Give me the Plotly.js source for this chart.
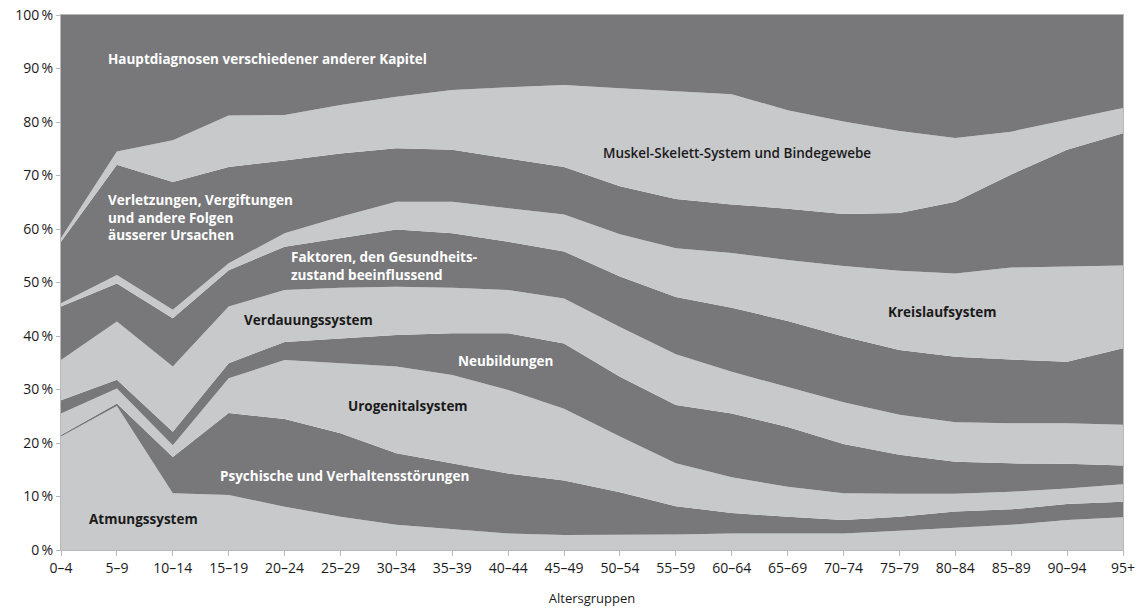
<!DOCTYPE html>
<html>
<head>
<meta charset="utf-8">
<script src="https://cdn.plot.ly/plotly-3.0.1.min.js"></script>
<style>html,body{margin:0;padding:0;background:#fff;}#chart{width:1140px;height:610px;}</style>
</head>
<body>
<div id="chart"></div>
<script>
const ageGroups = ["0–4","5–9","10–14","15–19","20–24","25–29","30–34","35–39","40–44","45–49","50–54","55–59","60–64","65–69","70–74","75–79","80–84","85–89","90–94","95+"];

const atmung     = [21.2,26.9,10.6,10.3, 8.1, 6.2, 4.7, 3.9, 3.1, 2.8, 2.8, 2.9, 3.1, 3.1, 3.1, 3.6, 4.1, 4.7, 5.6, 6.1];
const psychische = [ 0.3, 0.5, 6.8,15.3,16.4,15.6,13.4,12.3,11.2,10.2, 8.0, 5.3, 3.8, 3.1, 2.5, 2.6, 3.1, 2.9, 3.0, 2.9];
const urogenital = [ 4.0, 2.8, 2.2, 6.5,11.0,13.1,16.2,16.5,15.6,13.4,10.4, 8.0, 6.7, 5.6, 5.0, 4.3, 3.3, 3.3, 2.9, 3.3];
const neubildung = [ 2.5, 1.6, 2.5, 2.8, 3.4, 4.7, 5.9, 7.8,10.6,12.2,11.2,10.9,11.9,11.2, 9.2, 7.3, 6.0, 5.3, 4.6, 3.5];
const verdauung  = [ 7.5,10.9,12.2,10.6, 9.7, 9.4, 9.0, 8.5, 8.1, 8.4, 9.3, 9.5, 7.8, 7.5, 7.8, 7.5, 7.4, 7.5, 7.6, 7.6];
const faktoren   = [10.0, 7.1, 9.0, 6.8, 8.1, 9.3,10.7,10.2, 9.0, 8.8, 9.4,10.7,12.0,12.3,12.3,12.1,12.2,11.9,11.5,14.3];
const kreislauf  = [ 0.6, 1.6, 1.6, 1.3, 2.5, 4.0, 5.2, 5.9, 6.3, 6.9, 7.9, 9.1,10.2,11.4,13.2,14.8,15.6,17.2,17.8,15.5];
const verletzung = [11.5,20.6,23.9,18.0,13.6,11.8,10.0, 9.7, 9.3, 8.9, 9.0, 9.2, 9.1, 9.6, 9.7,10.8,13.4,17.4,21.8,24.7];
const muskel     = [ 0.7, 2.5, 7.8, 9.6, 8.5, 9.1, 9.6,11.2,13.3,15.3,18.3,20.1,20.6,18.4,17.3,15.3,11.9, 8.0, 5.6, 4.7];
const andere     = [41.7,25.5,23.4,18.8,18.7,16.8,15.3,14.0,13.5,13.1,13.7,14.3,14.8,17.8,19.9,21.7,23.0,21.8,19.6,17.4];

const seriesNames = ["Atmungssystem","Psychische und Verhaltensstörungen","Urogenitalsystem","Neubildungen","Verdauungssystem","Faktoren, den Gesundheitszustand beeinflussend","Kreislaufsystem","Verletzungen, Vergiftungen und andere Folgen äusserer Ursachen","Muskel-Skelett-System und Bindegewebe","Hauptdiagnosen verschiedener anderer Kapitel"];
const seriesValues = [atmung,psychische,urogenital,neubildung,verdauung,faktoren,kreislauf,verletzung,muskel,andere];

const yTickVals = [0,10,20,30,40,50,60,70,80,90,100];
const yTickText = ["0\u2009%","10\u2009%","20\u2009%","30\u2009%","40\u2009%","50\u2009%","60\u2009%","70\u2009%","80\u2009%","90\u2009%","100\u2009%"];

const LIGHT = "#c8c9cb", DARK = "#78787b";

const traces = seriesValues.map((v, i) => ({
  type: "scatter",
  mode: "lines",
  x: ageGroups,
  y: v,
  name: seriesNames[i],
  stackgroup: "one",
  groupnorm: i === 0 ? "percent" : undefined,
  line: {width: 0, shape: "linear"},
  fillcolor: i % 2 === 0 ? LIGHT : DARK,
  hoverinfo: "skip"
}));

const W = 1062, H = 535, L = 61, T = 15;
function px(x){ return (x - L) / W; }
function py(y){ return (T + H - y) / H; }
const FONT = "Open Sans, Noto Sans, sans-serif";
function lab(text, x, y, color, weight){
  return {text: text, xref: "paper", yref: "paper", x: px(x), y: py(y), xanchor: "left", yanchor: "middle", showarrow: false, align: "left",
    font: {family: FONT, size: 13.5, color: color, weight: weight || 700}};
}

const annotations = [
  lab("Hauptdiagnosen verschiedener anderer Kapitel", 106, 59, "#ffffff"),
  lab("Verletzungen, Vergiftungen<br>und andere Folgen<br>äusserer Ursachen", 106, 217, "#ffffff"),
  lab("Faktoren, den Gesundheits-<br>zustand beeinflussend", 289, 266, "#ffffff"),
  lab("Verdauungssystem", 242, 320, "#1a1a1a"),
  lab("Neubildungen", 456, 361, "#ffffff"),
  lab("Urogenitalsystem", 346, 406, "#1a1a1a"),
  lab("Psychische und Verhaltensstörungen", 218, 476, "#ffffff"),
  lab("Atmungssystem", 87, 519, "#1a1a1a"),
  lab("Muskel-Skelett-System und Bindegewebe", 601, 153, "#1a1a1a", 600),
  lab("Kreislaufsystem", 886, 312, "#1a1a1a")
];

const layout = {
  width: 1140, height: 610,
  margin: {l: L, r: 1140 - L - W, t: T, b: 610 - T - H},
  paper_bgcolor: "#ffffff",
  plot_bgcolor: "#ffffff",
  showlegend: false,
  font: {family: FONT, size: 14, color: "#1a1a1a"},
  xaxis: {
    type: "category",
    range: [0, ageGroups.length - 1],
    showgrid: false, zeroline: false,
    showline: true, linecolor: "#b8b8b8", linewidth: 1, mirror: true,
    ticks: "outside", ticklen: 5, tickcolor: "#b8b8b8",
    tickfont: {family: FONT, size: 14, color: "#1a1a1a"},
    title: {text: "Altersgruppen", font: {family: FONT, size: 13, color: "#1a1a1a"}, standoff: 18}
  },
  yaxis: {
    range: [0, 100],
    tickvals: yTickVals, ticktext: yTickText,
    showgrid: false, zeroline: false,
    showline: true, linecolor: "#b8b8b8", linewidth: 1, mirror: true,
    ticks: "outside", ticklen: 4, tickcolor: "#b8b8b8",
    tickfont: {family: FONT, size: 14, color: "#1a1a1a"}
  },
  annotations: annotations
};

Plotly.newPlot("chart", traces, layout, {displayModeBar: false, staticPlot: true});
</script>
</body>
</html>
